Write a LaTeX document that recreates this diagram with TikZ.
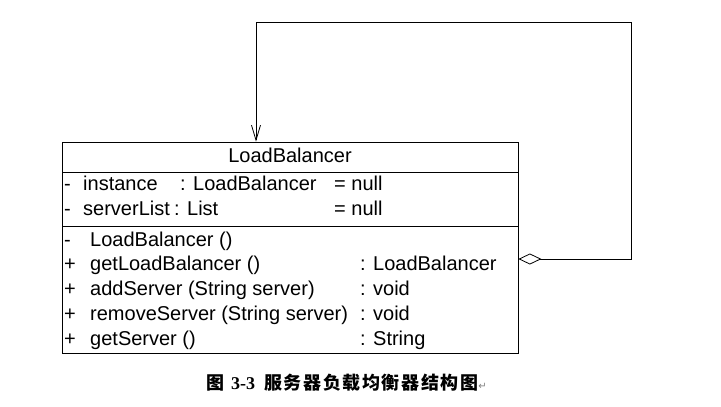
\documentclass[tikz,border=0pt]{standalone}
\usepackage{fontspec}
\setmainfont{Liberation Sans}
\newfontfamily\cjk{Noto Sans CJK SC}[LetterSpace=9]
\newfontfamily\capnum{Liberation Serif}
\newfontfamily\symfont{DejaVu Sans}
\usetikzlibrary{arrows.meta}

\tikzset{
  umlline/.style={line width=0.8pt},
  umltext/.style={anchor=west, inner sep=0pt, text height=14pt, text depth=4pt,
                  font=\fontsize{20}{24}\selectfont},
  classbox/.style={draw, umlline, fill=white, inner sep=0pt,
                   minimum width=456pt, minimum height=211pt},
}

\begin{document}
\begin{tikzpicture}[x=1pt,y=-1pt]
        \useasboundingbox (0,0) rectangle (721,407);

        \node [classbox] (lb) at (290,247.5) {};                              %class box
        \draw [umlline] (62,172) -- (518,172);                                %name | attributes
        \draw [umlline] (62,226) -- (518,226);                                %attributes | operations

        \node [umltext, anchor=center] (title) at (290,157) {LoadBalancer};  %

        \node [umltext] (avis1)  at (64,185)  {-};                            %instance
        \node [umltext] (aname1) at (83,185)  {instance};                     %
        \node [umltext] (atype1) at (180,185) {: LoadBalancer};               %
        \node [umltext] (aval1)  at (334,185) {= null};                       %
        \node [umltext] (avis2)  at (64,210)  {-};                            %serverList
        \node [umltext] (aname2) at (83,210)  {serverList};                   %
        \node [umltext] (atype2) at (174,210) {: List};                       %
        \node [umltext] (aval2)  at (334,210) {= null};                       %

        \node [umltext] (ovis1)  at (64,241)  {-};                            %constructor
        \node [umltext] (oname1) at (90,241)  {LoadBalancer ()};              %
        \node [umltext] (ovis2)  at (64,265)  {+};                            %
        \node [umltext] (oname2) at (90,265)  {getLoadBalancer ()};           %
        \node [umltext] (oret2)  at (360,265) {: LoadBalancer};               %
        \node [umltext] (ovis3)  at (64,290)  {+};                            %
        \node [umltext] (oname3) at (90,290)  {addServer (String server)};    %
        \node [umltext] (oret3)  at (360,290) {: void};                       %
        \node [umltext] (ovis4)  at (64,315)  {+};                            %
        \node [umltext] (oname4) at (90,315)  {removeServer (String server)}; %
        \node [umltext] (oret4)  at (360,315) {: void};                       %
        \node [umltext] (ovis5)  at (64,340)  {+};                            %
        \node [umltext] (oname5) at (90,340)  {getServer ()};                 %
        \node [umltext] (oret5)  at (360,340) {: String};                     %

        \coordinate (aggr)  at (lb.east |- 0,259);                            %self aggregation
        \coordinate (turn1) at (631,259);                                     %
        \coordinate (turn2) at (631,22);                                      %
        \coordinate (turn3) at (256,22);                                      %
        \draw [umlline, {Diamond[open,fill=white,length=23pt,width=11pt]}-{Straight Barb[length=15pt,width=9pt]}]
              (aggr) -- (turn1) -- (turn2) -- (turn3) -- (turn3 |- lb.north);

        \node [anchor=west, inner sep=0pt] (caption) at (206,383)
              {{\cjk\bfseries\fontsize{18}{20}\selectfont 图}\hspace{7pt}%
               {\capnum\bfseries\fontsize{18}{20}\selectfont 3-3}\hspace{9pt}%
               {\cjk\bfseries\fontsize{18}{20}\selectfont 服务器负载均衡器结构图}%
               {\symfont\fontsize{10}{12}\selectfont\color{gray}↵}};
\end{tikzpicture}
\end{document}
